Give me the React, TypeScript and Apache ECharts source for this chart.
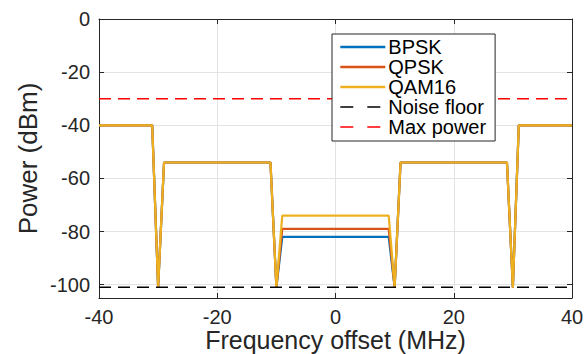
import React, { useEffect, useRef } from "react";
import * as echarts from "echarts";

const freq = [-40, -31, -30, -29, -11, -10, -9, 9, 10, 11, 29, 30, 31, 40];
const bpsk = [-40, -40, -101, -54, -54, -101, -82, -82, -101, -54, -54, -101, -40, -40];
const qpsk = [-40, -40, -101, -54, -54, -101, -79, -79, -101, -54, -54, -101, -40, -40];
const qam16 = [-40, -40, -101, -54, -54, -101, -74, -74, -101, -54, -54, -101, -40, -40];
const noiseFloor = -101;
const maxPower = -30;
const xRange = [-40, 40];
const yTicks = [-100, -80, -60, -40, -20, 0];
const yRange = [-105, 0];

const FONT = "'Liberation Sans', Arial, Helvetica, sans-serif";
const AX = "#262626";

export default function App() {
  const ref = useRef<HTMLDivElement>(null);
  useEffect(() => {
    if (!ref.current) return;
    const chart = echarts.init(ref.current, null, { renderer: "svg" });
    const pair = (ys: number[]) => freq.map((x, i) => [x, ys[i]]);
    const solid = (name: string, color: string, ys: number[]) => ({
      name,
      type: "line",
      data: pair(ys),
      symbol: "none",
      lineStyle: { color, width: 2.2 },
      itemStyle: { color },
      xAxisIndex: 0,
      yAxisIndex: 0,
    });
    const dashed = (name: string, color: string, y: number) => ({
      name,
      type: "line",
      data: [
        [xRange[0], y],
        [xRange[1], y],
      ],
      symbol: "none",
      lineStyle: { color, width: 1.5, type: [12, 7] },
      itemStyle: { color },
      xAxisIndex: 0,
      yAxisIndex: 0,
      z: 3,
    });
    const xCommon = {
      type: "value",
      min: xRange[0],
      max: xRange[1],
      interval: 20,
      axisLine: { show: true, onZero: false, lineStyle: { color: AX, width: 1 } },
      axisTick: { show: true, inside: true, length: 5, lineStyle: { color: AX } },
    };
    const yCommon = {
      type: "value",
      min: yRange[0],
      max: yRange[1],
      axisLine: { show: true, onZero: false, lineStyle: { color: AX, width: 1 } },
      axisTick: {
        show: true,
        inside: true,
        length: 5,
        customValues: yTicks,
        lineStyle: { color: AX },
      },
    };
    chart.setOption({
      animation: false,
      backgroundColor: "#ffffff",
      grid: {
        left: 99,
        right: 15,
        top: 19,
        bottom: 56,
        containLabel: false,
        outerBoundsMode: "none",
      },
      legend: {
        orient: "vertical",
        left: 332,
        top: 34,
        padding: [3, 9, 4, 7],
        itemWidth: 45,
        itemHeight: 14,
        itemGap: 0,
        borderColor: AX,
        borderWidth: 1,
        borderRadius: 0,
        backgroundColor: "#ffffff",
        itemStyle: { opacity: 0 },
        textStyle: { fontFamily: FONT, fontSize: 20, color: "#000", lineHeight: 19.4, padding: [0, 0, 0, -2] },
        data: [
          { name: "BPSK", lineStyle: { width: 2.6 } },
          { name: "QPSK", lineStyle: { width: 2.6 } },
          { name: "QAM16", lineStyle: { width: 2.6 } },
          { name: "Noise floor", lineStyle: { width: 1.5, type: [13, 14] } },
          { name: "Max power", lineStyle: { width: 1.5, type: [13, 14] } },
        ],
      },
      xAxis: [
        {
          ...xCommon,
          position: "bottom",
          name: "Frequency offset (MHz)",
          nameLocation: "middle",
          nameGap: 29,
          nameMoveOverlap: false,
          nameTextStyle: { fontFamily: FONT, fontSize: 25, color: AX, lineHeight: 25 },
          axisLabel: { fontFamily: FONT, fontSize: 20, color: AX, margin: 12, lineHeight: 14 },
          splitLine: { show: true, lineStyle: { color: "#e3e3e3", width: 1 } },
        },
        {
          ...xCommon,
          position: "top",
          axisLabel: { show: false },
          splitLine: { show: false },
        },
      ],
      yAxis: [
        {
          ...yCommon,
          position: "left",
          name: "Power (dBm)",
          nameLocation: "middle",
          nameGap: 58,
          nameMoveOverlap: false,
          nameTextStyle: { fontFamily: FONT, fontSize: 26, color: AX },
          axisLabel: {
            fontFamily: FONT,
            fontSize: 20,
            color: AX,
            margin: 9,
            customValues: yTicks,
          },
          splitLine: { show: true, lineStyle: { color: "#e3e3e3", width: 1 } },
        },
        {
          ...yCommon,
          position: "right",
          axisLabel: { show: false },
          splitLine: { show: false },
        },
      ],
      series: [
        solid("BPSK", "#0072BD", bpsk),
        solid("QPSK", "#D95319", qpsk),
        solid("QAM16", "#EDB120", qam16),
        dashed("Noise floor", "#000000", noiseFloor),
        dashed("Max power", "#FF0000", maxPower),
      ],
    });
    return () => chart.dispose();
  }, []);
  return (
    <div
      ref={ref}
      style={{ position: "fixed", left: 0, top: 0, width: 587, height: 354, background: "#fff" }}
    />
  );
}
